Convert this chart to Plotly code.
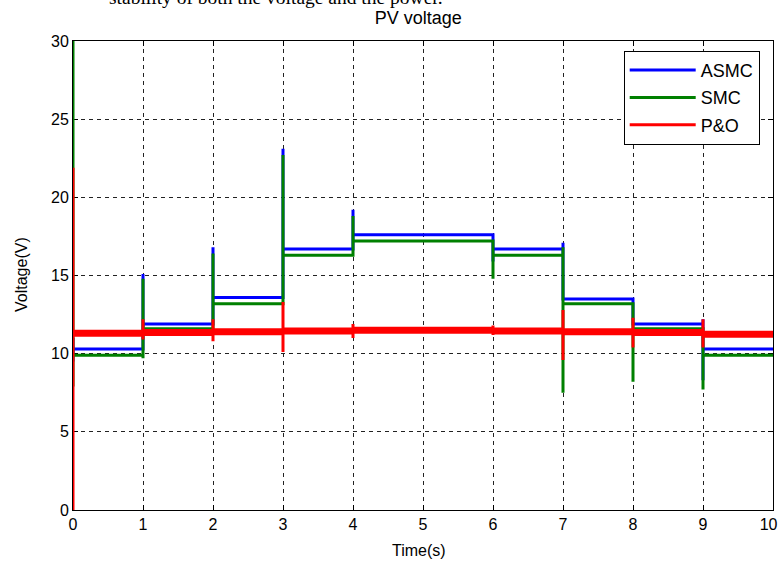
import plotly.graph_objects as go

# ---- data ----
switch_times = [0, 1, 2, 3, 4, 5, 6, 7, 8, 9]
t_end = 10

asmc_level = [10.3, 11.9, 13.6, 16.7, 17.6, 17.6, 16.7, 13.5, 11.9, 10.3]
asmc_hi    = [11.0, 15.1, 16.8, 23.1, 19.2, 17.6, 16.7, 17.1, 13.6, 12.2]
asmc_lo    = [9.5, 11.9, 13.6, 16.7, 17.6, 17.6, 15.9, 13.5, 11.9, 8.3]

smc_level = [9.9, 11.6, 13.2, 16.3, 17.2, 17.2, 16.3, 13.2, 11.6, 9.9]
smc_hi    = [30.0, 14.8, 16.4, 22.7, 18.8, 17.2, 17.2, 16.8, 13.2, 11.6]
smc_lo    = [7.9, 9.7, 12.7, 13.2, 16.3, 17.2, 14.8, 7.5, 8.2, 7.7]

po_level = [11.3, 11.35, 11.4, 11.45, 11.5, 11.5, 11.45, 11.4, 11.35, 11.25]
po_hi    = [21.9, 12.2, 12.2, 13.3, 11.9, 11.5, 11.8, 12.8, 12.3, 12.2]
po_lo    = [0.0, 10.9, 10.8, 10.1, 11.0, 11.5, 11.2, 9.6, 10.4, 10.4]

x_ticks = list(range(0, 11))
x_tick_labels = ["0", "1", "2", "3", "4", "5", "6", "7", "8", "9", "10\u00a0\u00a0"]
y_ticks = [0, 5, 10, 15, 20, 25, 30]


def step_series(level, hi, lo, start):
    xs, ys = [], []
    prev = start
    for i, t in enumerate(switch_times):
        t_next = switch_times[i + 1] if i + 1 < len(switch_times) else t_end
        xs += [t, t, t, t, t_next]
        ys += [prev, hi[i], lo[i], level[i], level[i]]
        prev = level[i]
    return xs, ys


def flat_segments(level):
    xs, ys = [], []
    for i, t in enumerate(switch_times):
        t_next = switch_times[i + 1] if i + 1 < len(switch_times) else t_end
        xs += [t, t_next, None]
        ys += [level[i], level[i], None]
    return xs, ys


fig = go.Figure()

ax, ay = step_series(asmc_level, asmc_hi, asmc_lo, asmc_level[0])
fig.add_trace(go.Scatter(x=ax, y=ay, mode="lines", name="ASMC", legendgroup="a",
                         line=dict(color="#0000FF", width=3)))
sx, sy = step_series(smc_level, smc_hi, smc_lo, smc_hi[0])
fig.add_trace(go.Scatter(x=sx, y=sy, mode="lines", name="SMC", legendgroup="s",
                         line=dict(color="#008000", width=3)))
px_, py_ = step_series(po_level, po_hi, po_lo, po_lo[0])
fig.add_trace(go.Scatter(x=px_, y=py_, mode="lines", name="P&O", legendgroup="p",
                         line=dict(color="#FF0000", width=3)))
fx, fy = flat_segments(po_level)
fig.add_trace(go.Scatter(x=fx, y=fy, mode="lines", name="P&O", legendgroup="p",
                         showlegend=False, line=dict(color="#FF0000", width=7)))

axis_common = dict(
    showgrid=True, gridcolor="#222222", gridwidth=1, griddash="4px,4px",
    showline=True, linecolor="black", linewidth=1, mirror="allticks",
    ticks="inside", ticklen=5, tickcolor="black", zeroline=False,
    layer="below traces",
    tickfont=dict(family="Liberation Sans, Arial", size=16, color="black"),
)

fig.update_xaxes(range=[0, 10], tickvals=x_ticks, ticktext=x_tick_labels,
                 ticklabeloverflow="allow", automargin=False, **axis_common)
fig.update_yaxes(range=[0, 30], tickvals=y_ticks, automargin=False, **axis_common)

fig.update_layout(
    width=779, height=566,
    margin=dict(l=73, r=6, t=41, b=56, autoexpand=False),
    paper_bgcolor="white", plot_bgcolor="white",
    title=dict(text="PV voltage", x=0.537, xanchor="center", y=1 - 18 / 566,
               yanchor="middle",
               font=dict(family="Liberation Sans, Arial", size=18, color="black")),
    legend=dict(x=0.981, xanchor="right", y=0.979, yanchor="top",
                bgcolor="white", bordercolor="black", borderwidth=1,
                font=dict(family="Liberation Sans, Arial", size=18, color="black"),
                itemwidth=66, tracegroupgap=1),
    showlegend=True,
    annotations=[
        dict(text="Time(s)", xref="paper", yref="paper", x=0.494, y=(510 - 550) / 469,
             xanchor="center", yanchor="middle", showarrow=False,
             font=dict(family="Liberation Sans, Arial", size=16, color="black")),
        dict(text="Voltage(V)", xref="paper", yref="paper", x=(21 - 73) / 700,
             y=(510 - 275) / 469, xanchor="center", yanchor="middle", textangle=-90,
             showarrow=False,
             font=dict(family="Liberation Sans, Arial", size=16, color="black")),
        dict(text="stability of both the voltage and the power.", xref="paper",
             yref="paper", x=(107 - 73) / 700, y=(510 + 3) / 469, xanchor="left",
             yanchor="middle", showarrow=False,
             font=dict(family="Liberation Serif, Times New Roman", size=19.5, color="black")),
    ],
)

fig.write_html("out.html")
